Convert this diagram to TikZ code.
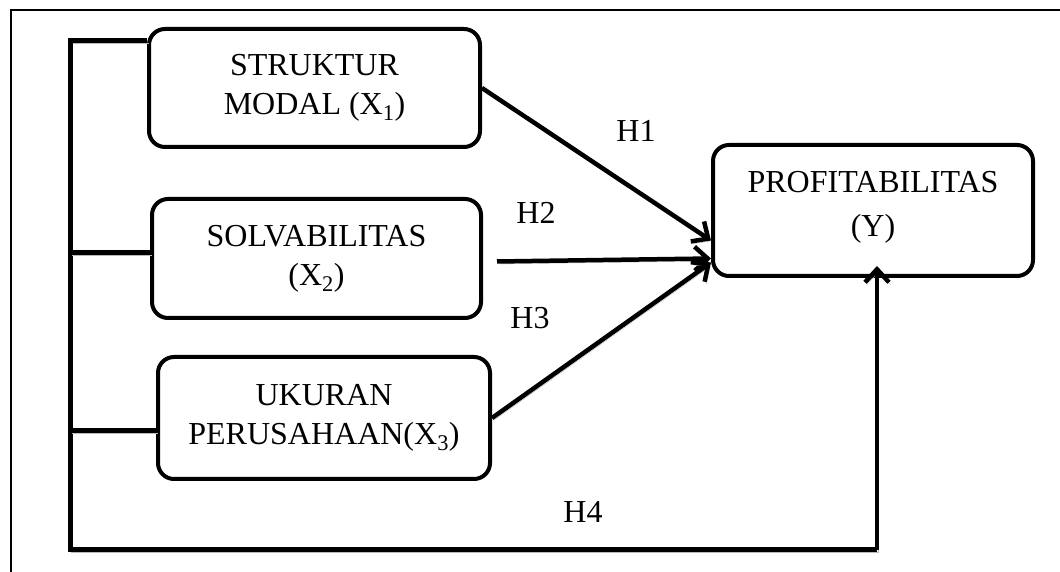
\documentclass[tikz,border=0pt]{standalone}
\usepackage{fontspec}
\setmainfont{Liberation Serif}
\usetikzlibrary{arrows.meta}
\begin{document}
\begin{tikzpicture}[x=1pt,y=1pt,
  varbox/.style={draw, line width=4pt, rounded corners=16pt, align=center, inner sep=0pt,
    font=\fontsize{32pt}{39pt}\selectfont},
  shadowed/.style={preaction={draw=gray!55, transform canvas={shift={(1.5pt,-2.5pt)}}}},
  bus/.style={line width=5pt, shadowed},
  arr/.style={line width=4.5pt, shadowed, -{Straight Barb[length=13pt,width=24pt,line width=4.5pt]}},
  hyp/.style={font=\fontsize{32pt}{39pt}\selectfont, inner sep=0pt}]
\useasboundingbox (0,0) rectangle (1060,572);
\fill[white] (0,0) rectangle (1060,572);
% outer frame (cut by the page edge on the right and bottom)
\draw[line width=2pt] (11,-20) -- (11,562) -- (1090,562);

% variable boxes
\node[varbox, minimum width=331pt, minimum height=118pt] (b1) at (314.5,484) {STRUKTUR\\MODAL (X\textsubscript{1})};
\node[varbox, minimum width=329pt, minimum height=119pt] (b2) at (316.5,313.5) {SOLVABILITAS\\(X\textsubscript{2})};
\node[varbox, minimum width=332pt, minimum height=122pt] (b3) at (324,154) {UKURAN\\PERUSAHAAN(X\textsubscript{3})};
\node[varbox, minimum width=320pt, minimum height=131pt] (Y) at (873,361.5) {PROFITABILITAS\\[5pt](Y)\rule[-14pt]{0pt}{14pt}};

% bus on the left
\coordinate (top) at (70,531);
\coordinate (bot) at (70,22);
\coordinate (br) at (877,22);
\draw[bus] (b1.west |- top) -- (top) -- (bot) -- (br);
\draw[bus] ([yshift=5.5pt]b2.west) -- ([yshift=5.5pt]b2.west -| top);
\draw[bus] ([yshift=-13pt]b3.west) -- ([yshift=-13pt]b3.west -| top);
\draw[arr, shorten >=-12pt] (br) -- (br |- Y.south);

% hypothesis arrows
\draw[arr] (b1.east) -- ([yshift=-30pt]Y.west);
\draw[arr] ([xshift=14pt,yshift=-3pt]b2.east) -- ([yshift=-48pt]Y.west);
\draw[arr] (b3.east) -- ([yshift=-52pt]Y.west);

% labels
\node[hyp] (h1) at (636,441) {H1};
\node[hyp] (h2) at (536,359) {H2};
\node[hyp] (h3) at (530,254) {H3};
\node[hyp] (h4) at (583,60) {H4};
\end{tikzpicture}
\end{document}
